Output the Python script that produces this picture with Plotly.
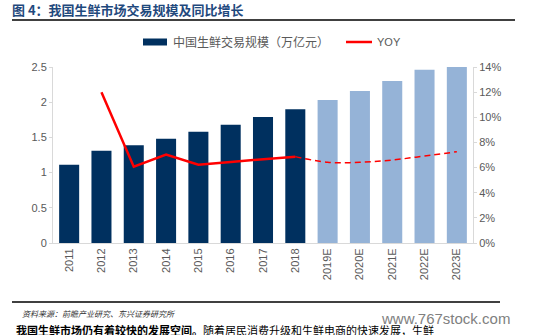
import plotly.graph_objects as go

years = ["2011", "2012", "2013", "2014", "2015", "2016", "2017", "2018",
         "2019E", "2020E", "2021E", "2022E", "2023E"]
scale = [1.11, 1.31, 1.39, 1.48, 1.58, 1.68, 1.79, 1.90,
         2.03, 2.16, 2.30, 2.46, 2.50]
yoy_actual_years = ["2012", "2013", "2014", "2015", "2016", "2017", "2018"]
yoy_actual = [0.120, 0.0607, 0.0703, 0.0623, 0.0645, 0.0666, 0.0687]
yoy_fc_years = ["2018", "2019E", "2020E", "2021E", "2022E", "2023E"]
yoy_fc = [0.0687, 0.0642, 0.0642, 0.0660, 0.0692, 0.0726]

bar_name = "中国生鲜交易规模（万亿元）"
line_name = "YOY"

dark = "#00305F"
light = "#95B3D7"
red = "#FF0000"
bar_colors = [dark if not y.endswith("E") else light for y in years]
grey_txt = "#595959"
cjk = "Noto Sans CJK SC"

fig = go.Figure()
fig.add_trace(go.Bar(x=years, y=scale, name=bar_name,
                     marker=dict(color=bar_colors, line=dict(width=0)),
                     width=0.62, yaxis="y", showlegend=False))
fig.add_trace(go.Scatter(x=yoy_actual_years, y=yoy_actual, name=line_name, mode="lines",
                         line=dict(color=red, width=2.5), yaxis="y2", showlegend=False))
fig.add_trace(go.Scatter(x=yoy_fc_years, y=yoy_fc, name=line_name, mode="lines",
                         line=dict(color=red, width=1.5, dash="6px,4px", shape="spline"),
                         showlegend=False, yaxis="y2"))

axis_line = "#D9D9D9"
fig.update_layout(
    width=539, height=335,
    margin=dict(l=53, r=66, t=67, b=92),
    paper_bgcolor="white", plot_bgcolor="white",
    font=dict(family=cjk, size=11, color=grey_txt),
    showlegend=False,
    xaxis=dict(type="category", tickangle=-90, showgrid=False,
               showline=True, linecolor=axis_line, linewidth=1,
               ticks="", tickfont=dict(family="Liberation Sans", size=11, color=grey_txt)),
    yaxis=dict(range=[0, 2.5], showgrid=False, zeroline=False,
               showline=True, linecolor=axis_line, linewidth=1,
               ticks="outside", ticklen=3, tickcolor=axis_line,
               tickvals=[0, 0.5, 1, 1.5, 2, 2.5], ticktext=["0", "0.5", "1", "1.5", "2", "2.5"],
               tickfont=dict(family="Liberation Sans", size=11, color=grey_txt)),
    yaxis2=dict(range=[0, 0.14], dtick=0.02, tickformat=".0%", overlaying="y", side="right",
                showgrid=False, zeroline=False, showline=True, linecolor=axis_line, linewidth=1,
                ticks="outside", ticklen=3, tickcolor=axis_line,
                tickfont=dict(family="Liberation Sans", size=11, color=grey_txt)),
    bargap=0.38,
)


def px_x(x):
    return (x - 53) / 420


def px_y(y):
    return (243 - y) / 176


# Legend (drawn manually to match the wide swatches)
fig.add_shape(type="rect", xref="paper", yref="paper",
              x0=px_x(143), x1=px_x(167), y0=px_y(45.5), y1=px_y(38.5),
              fillcolor=dark, line=dict(width=0))
fig.add_annotation(text=bar_name, xref="paper", yref="paper",
                   x=px_x(171), y=px_y(42), xanchor="left", yanchor="middle",
                   showarrow=False, font=dict(family=cjk, size=12, color=grey_txt))
fig.add_shape(type="line", xref="paper", yref="paper",
              x0=px_x(346), x1=px_x(372), y0=px_y(42), y1=px_y(42),
              line=dict(color=red, width=2.5))
fig.add_annotation(text=line_name, xref="paper", yref="paper",
                   x=px_x(375), y=px_y(42), xanchor="left", yanchor="middle",
                   showarrow=False, font=dict(family="Liberation Sans", size=11, color=grey_txt))

# Title and decorations
fig.add_annotation(text="<b>图 4：我国生鲜市场交易规模及同比增长</b>", xref="paper", yref="paper",
                   x=px_x(10), y=px_y(10), xanchor="left", yanchor="middle",
                   showarrow=False, font=dict(family=cjk, size=13, color="#1F497D"))
fig.add_shape(type="line", xref="paper", yref="paper",
              x0=px_x(12), x1=px_x(515), y0=px_y(20), y1=px_y(20),
              line=dict(color="black", width=1.5))
fig.add_shape(type="line", xref="paper", yref="paper",
              x0=px_x(12), x1=px_x(500), y0=px_y(302), y1=px_y(302),
              line=dict(color="black", width=1.5))
fig.add_annotation(text="<i>资料来源：前瞻产业研究、东兴证券研究所</i>", xref="paper", yref="paper",
                   x=px_x(20), y=px_y(313), xanchor="left", yanchor="middle",
                   showarrow=False, font=dict(family=cjk, size=8, color="#333333"))
fig.add_annotation(text="www.767stock.com", xref="paper", yref="paper",
                   x=px_x(512), y=px_y(318), xanchor="right", yanchor="middle",
                   showarrow=False, font=dict(family="Liberation Sans", size=15, color="#808080"))
fig.add_annotation(text="<b>我国生鲜市场仍有着较快的发展空间。</b>随着居民消费升级和生鲜电商的快速发展，生鲜",
                   xref="paper", yref="paper",
                   x=px_x(14), y=px_y(330), xanchor="left", yanchor="middle",
                   showarrow=False, font=dict(family=cjk, size=11, color="#000000"))

fig.write_html("out.html")
